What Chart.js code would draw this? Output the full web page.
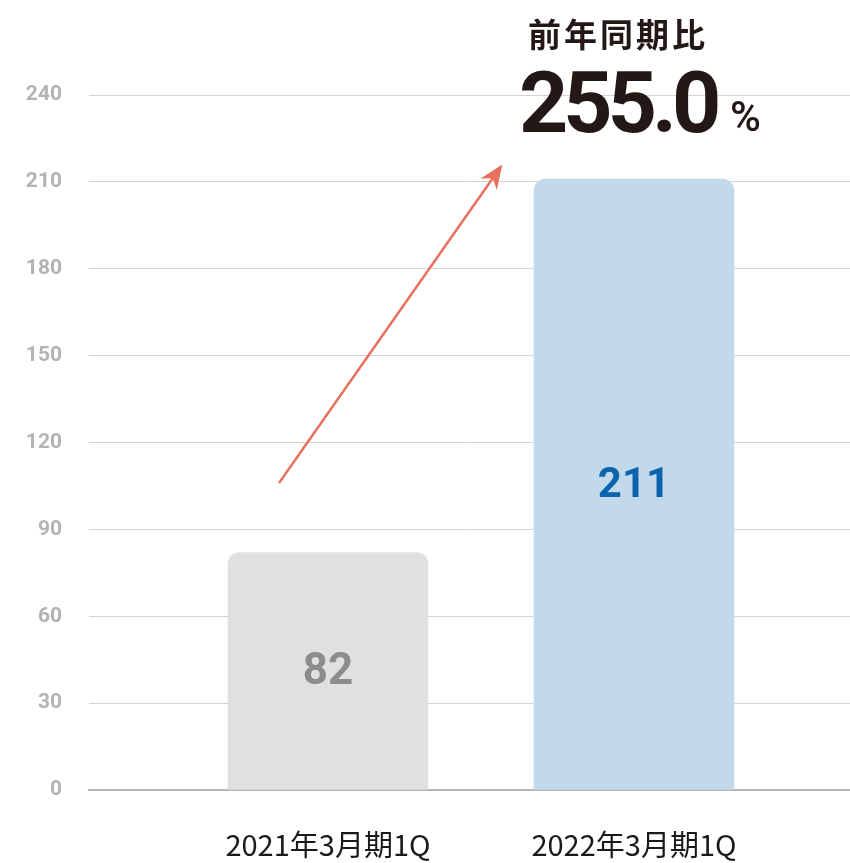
<!DOCTYPE html>
<html lang="ja">
<head>
  <meta charset="UTF-8">
  <title>前年同期比</title>
  <script src="https://cdn.jsdelivr.net/npm/chart.js"></script>
  <style>
    html, body { margin: 0; padding: 0; background: #fff; }
    canvas { display: block; }
  </style>
</head>
<body>
  <canvas id="growthChart" width="850" height="863"></canvas>

  <script>
    // Chart data
    const categories = ['2021年3月期1Q', '2022年3月期1Q'];
    const values = [82, 211];
    const barColors = ['#e0e0e0', '#c2d9eb'];
    const valueColors = ['#8c8c8c', '#0b64ab'];
    const valueFontSizes = [44, 42];
    const yMax = 240;
    const yStep = 30;

    // Headline text
    const ratioLabel = '前年同期比';
    const ratioValue = '255.0';
    const ratioUnit = '%';

    // Arrow in data units (x = category index, y = value)
    const arrowFrom = [-0.16, 106];
    const arrowTo = [0.57, 216];

    const darkText = '#231815';

    // Draws value labels inside bars, the arrow and the headline
    const overlayPlugin = {
      id: 'overlay',
      afterDatasetsDraw(chart) {
        const ctx = chart.ctx;
        const xs = chart.scales.x;
        const ys = chart.scales.y;
        const meta = chart.getDatasetMeta(0);

        ctx.save();
        // value labels
        meta.data.forEach((bar, i) => {
          ctx.font = 'bold ' + valueFontSizes[i] + 'px Roboto';
          ctx.fillStyle = valueColors[i];
          ctx.textAlign = 'center';
          ctx.textBaseline = 'middle';
          ctx.fillText(String(values[i]), bar.x, (bar.y + bar.base) / 2 + 2);
        });

        // arrow
        const x0 = xs.getPixelForValue(arrowFrom[0]);
        const y0 = ys.getPixelForValue(arrowFrom[1]);
        const x1 = xs.getPixelForValue(arrowTo[0]);
        const y1 = ys.getPixelForValue(arrowTo[1]);
        const a = Math.atan2(y1 - y0, x1 - x0);
        const len = 24, half = 10;
        const cos = Math.cos(a), sin = Math.sin(a);
        ctx.strokeStyle = '#e8705f';
        ctx.fillStyle = '#e8705f';
        ctx.lineWidth = 2.5;
        ctx.beginPath();
        ctx.moveTo(x0, y0);
        ctx.lineTo(x1 - cos * len * 0.6, y1 - sin * len * 0.6);
        ctx.stroke();
        ctx.beginPath();
        ctx.moveTo(x1, y1);
        ctx.lineTo(x1 - cos * len - sin * half, y1 - sin * len + cos * half);
        ctx.lineTo(x1 - cos * len * 0.7, y1 - sin * len * 0.7);
        ctx.lineTo(x1 - cos * len + sin * half, y1 - sin * len - cos * half);
        ctx.closePath();
        ctx.fill();

        // headline
        ctx.fillStyle = darkText;
        ctx.textAlign = 'center';
        ctx.textBaseline = 'middle';
        ctx.font = 'bold 33px "Noto Sans CJK JP"';
        ctx.letterSpacing = '3px';
        ctx.fillText(ratioLabel, 618, 34);

        ctx.textAlign = 'left';
        ctx.textBaseline = 'alphabetic';
        ctx.font = 'bold 86px Roboto';
        ctx.letterSpacing = '-5px';
        ctx.fillText(ratioValue, 519, 132);

        ctx.letterSpacing = '0px';
        ctx.font = '500 42px Roboto';
        ctx.fillText(ratioUnit, 730, 131);
        ctx.restore();
      }
    };

    new Chart(document.getElementById('growthChart'), {
      type: 'bar',
      data: {
        datasets: [{
          data: values.map((v, i) => ({ x: i, y: v })),
          backgroundColor: barColors,
          barThickness: 200,
          borderRadius: 12,
          borderSkipped: 'bottom'
        }]
      },
      options: {
        responsive: false,
        animation: false,
        layout: { padding: { top: 95, right: 0, left: 0, bottom: 0 } },
        plugins: {
          legend: { display: false },
          tooltip: { enabled: false }
        },
        scales: {
          x: {
            type: 'linear',
            offset: false,
            min: -0.781,
            max: 1.706,
            afterFit(scale) { scale.height = 73; },
            grid: { display: false, drawTicks: false },
            border: { color: '#b4b4b4', width: 2 },
            ticks: {
              stepSize: 1,
              includeBounds: false,
              padding: 38,
              color: '#1a1a1a',
              font: { family: '"Noto Sans CJK JP"', size: 29 },
              callback: v => (Number.isInteger(v) && categories[v]) ? categories[v] : ''
            }
          },
          y: {
            min: 0,
            max: yMax,
            afterFit(scale) { scale.width = 89; },
            grid: { color: '#d4d4d4', lineWidth: 1, drawTicks: false },
            border: { display: false },
            ticks: {
              stepSize: yStep,
              padding: 27,
              color: '#b3b3b3',
              font: { family: 'Roboto', size: 21, weight: 'bold' }
            }
          }
        }
      },
      plugins: [overlayPlugin]
    });
  </script>
</body>
</html>
